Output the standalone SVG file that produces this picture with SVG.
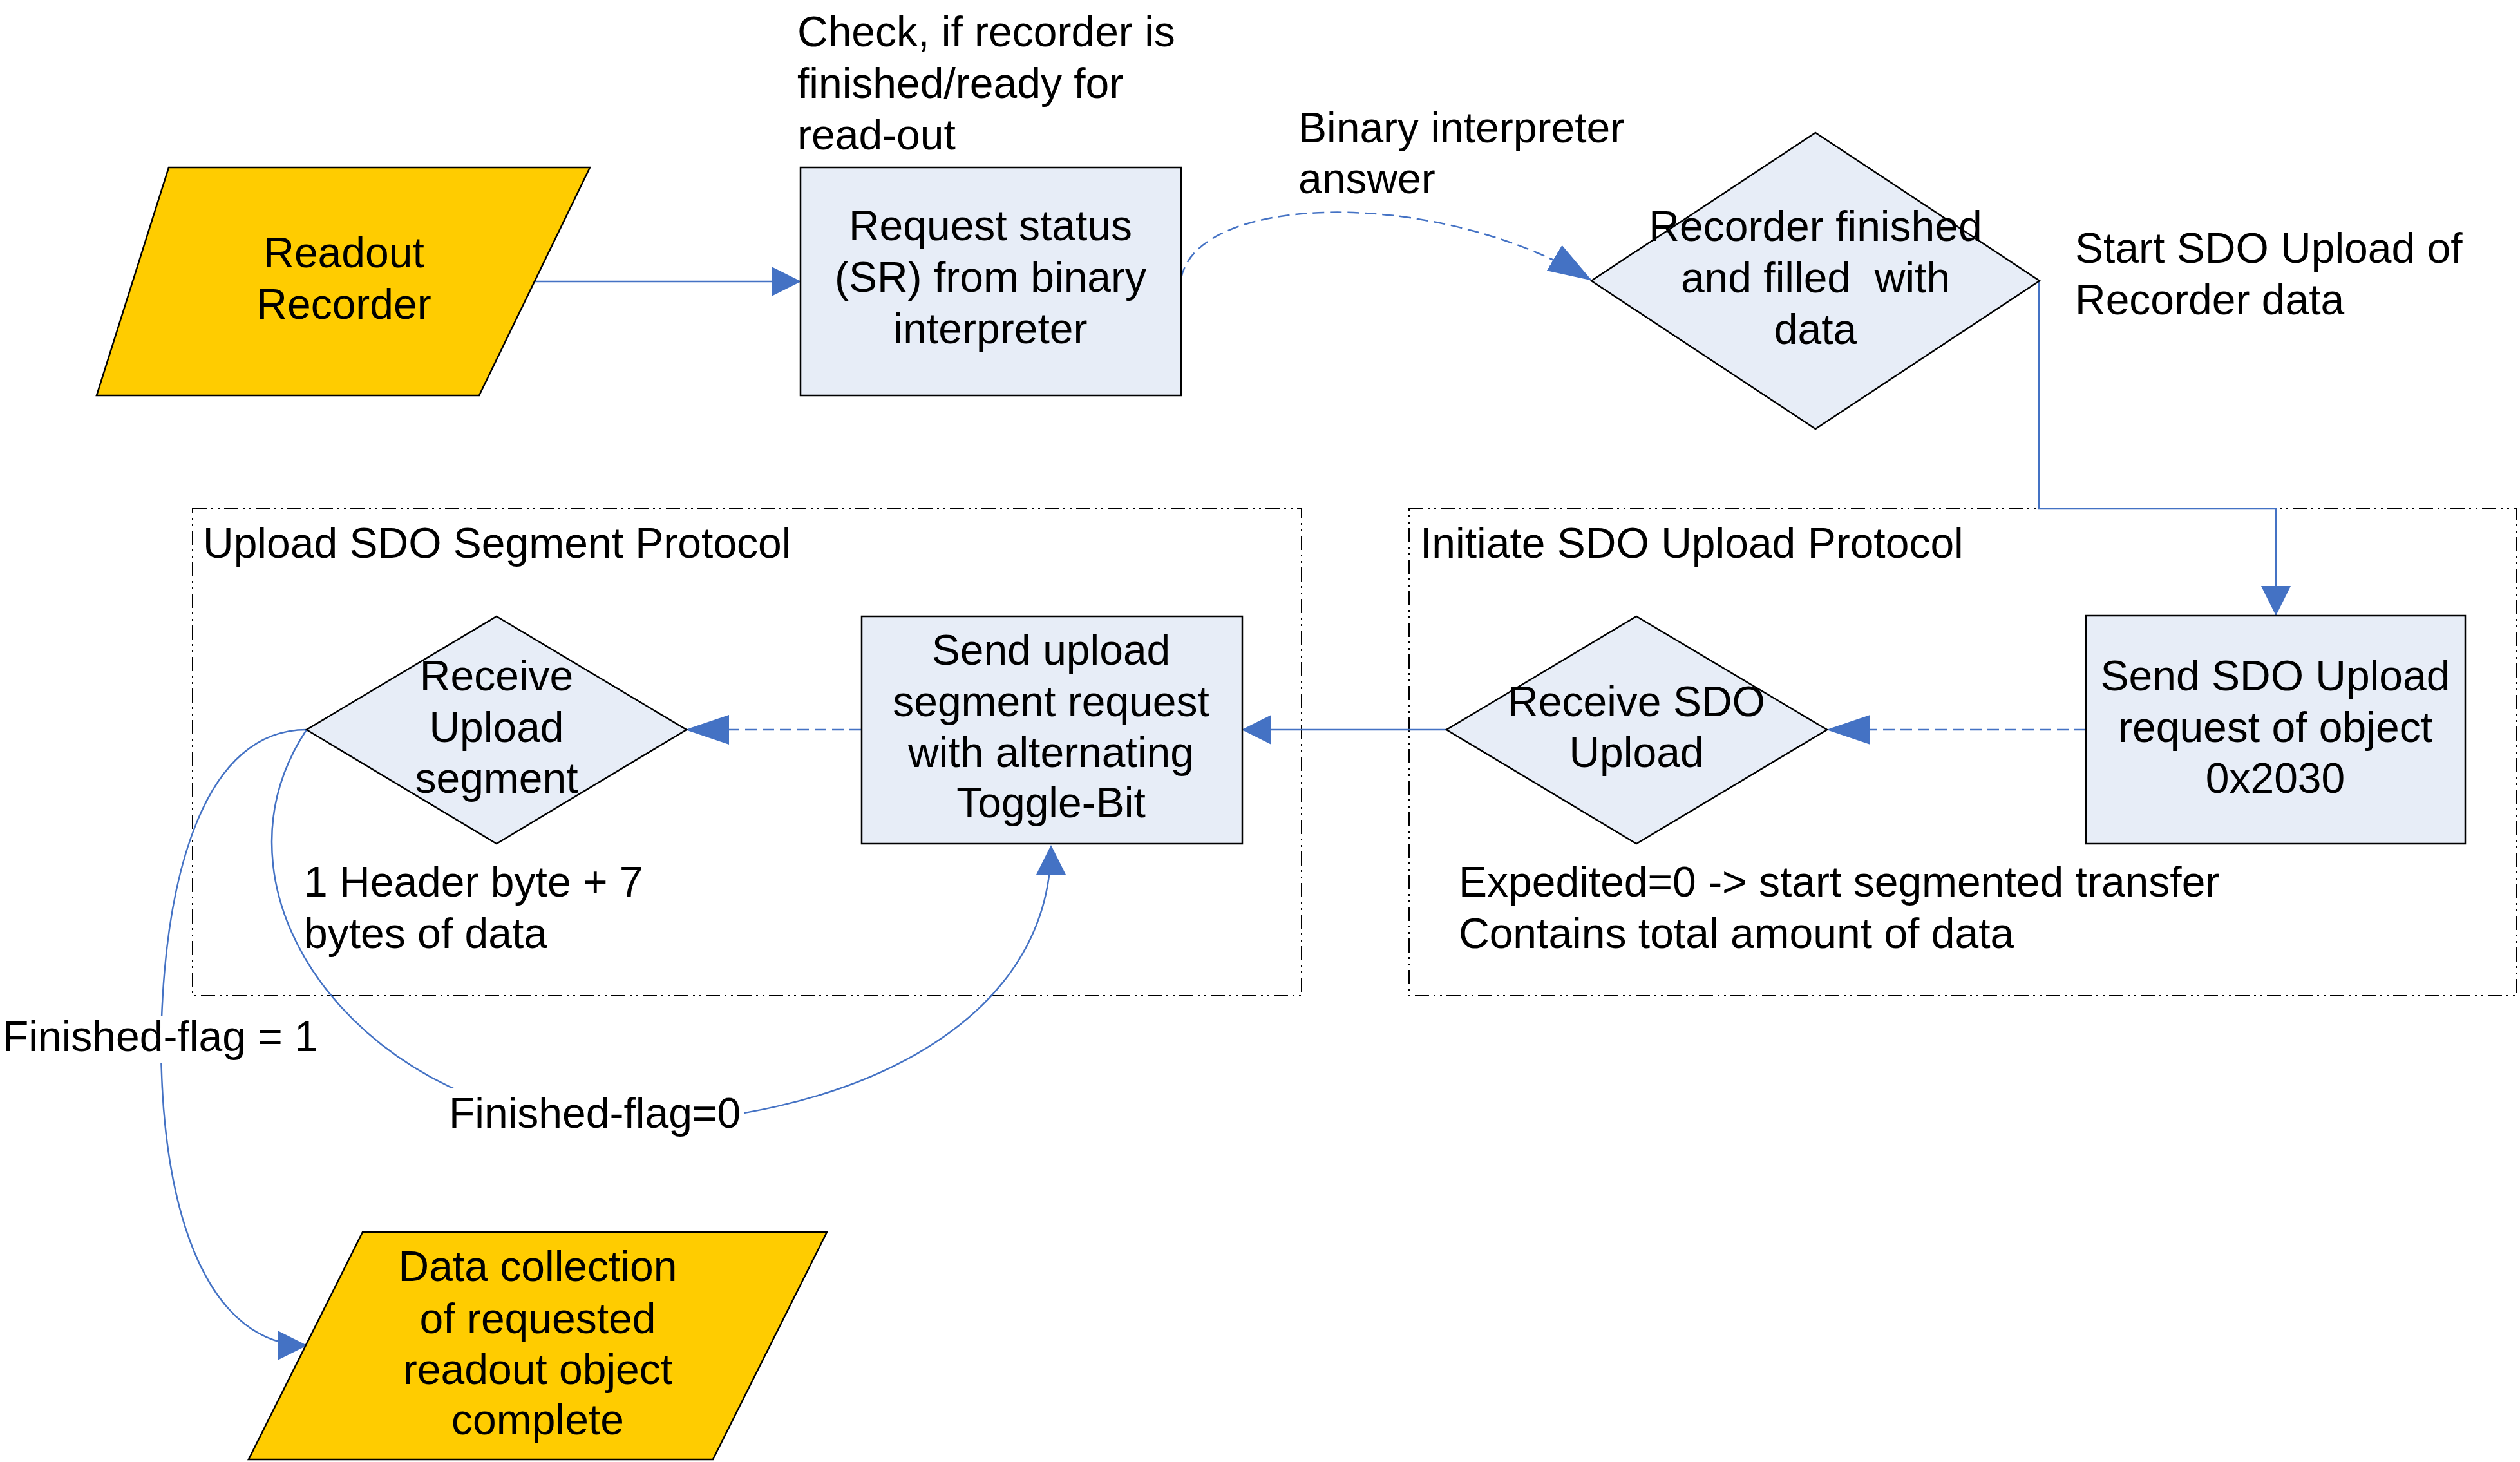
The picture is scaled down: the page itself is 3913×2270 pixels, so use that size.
<svg xmlns="http://www.w3.org/2000/svg" width="3913" height="2270" viewBox="0 0 3913 2270">
<style>
text{font-family:"Liberation Sans",Arial,sans-serif;font-size:66px;fill:#000}
.c{text-anchor:middle}
.box{fill:#E7EDF7;stroke:#000;stroke-width:2.5}
.io{fill:#FFCC00;stroke:#000;stroke-width:2.5}
.frame{fill:none;stroke:#000;stroke-width:2;stroke-dasharray:22 7 3 7 3 7}
.ln{fill:none;stroke:#4472C4;stroke-width:2.5}
.dash{stroke-dasharray:18 9}
.bg{fill:#fff}
</style>
<defs>
<marker id="ah" markerUnits="userSpaceOnUse" markerWidth="46" markerHeight="46" viewBox="0 0 46 46" refX="45" refY="23" orient="auto">
<path d="M0,0 L46,23 L0,46 Z" fill="#4472C4"/>
</marker>
<marker id="ahd" markerUnits="userSpaceOnUse" markerWidth="68" markerHeight="46" viewBox="0 0 68 46" refX="67" refY="23" orient="auto">
<path d="M0,0 L68,23 L0,46 Z" fill="#4472C4"/>
</marker>
</defs>
<rect width="3913" height="2270" fill="#fff"/>

<g id="frame-upload-segment">
<rect class="frame" x="299" y="790" width="1722" height="756"/>
<text x="315" y="866">Upload SDO Segment Protocol</text>
</g>
<g id="frame-initiate-upload">
<rect class="frame" x="2188" y="790" width="1720" height="756"/>
<text x="2205" y="866">Initiate SDO Upload Protocol</text>
</g>

<g id="connectors">
<path class="ln" d="M830,437 L1243,437" marker-end="url(#ah)"/>
<path class="ln dash" d="M1834,432 C1860,300 2230,290 2471,435" marker-end="url(#ahd)"/>
<path class="ln" d="M3166,436 L3166,790 L3534,790 L3534,955" marker-end="url(#ah)"/>
<path class="ln dash" d="M3239,1133 L2837,1133" marker-end="url(#ahd)"/>
<path class="ln" d="M2246,1133 L1929,1133" marker-end="url(#ah)"/>
<path class="ln dash" d="M1337,1133 L1065,1133" marker-end="url(#ahd)"/>
<path class="ln" d="M476,1133 C300,1400 580,1745 955,1745 C1300,1745 1632,1600 1632,1313" marker-end="url(#ah)"/>
<path class="ln" d="M476,1133 C320,1133 255,1350 250,1615 C250,1900 330,2089 476,2089" marker-end="url(#ah)"/>
</g>

<g id="labels">
<text x="1238" y="72">Check, if recorder is</text>
<text x="1238" y="152">finished/ready for</text>
<text x="1238" y="232">read-out</text>
<text x="2016" y="221">Binary interpreter</text>
<text x="2016" y="300">answer</text>
<text x="3222" y="408">Start SDO Upload of</text>
<text x="3222" y="488">Recorder data</text>
<text x="2265" y="1392">Expedited=0 -&gt; start segmented transfer</text>
<text x="2265" y="1472">Contains total amount of data</text>
<text x="472" y="1392">1 Header byte + 7</text>
<text x="472" y="1472">bytes of data</text>
<rect class="bg" x="0" y="1578" width="500" height="72"/>
<text x="4" y="1632">Finished-flag = 1</text>
<rect class="bg" x="690" y="1690" width="466" height="80"/>
<text x="697" y="1751">Finished-flag=0</text>
</g>

<g id="readout-recorder">
<polygon class="io" points="262,260 916,260 744,614 150,614"/>
<text class="c" x="534" y="415">Readout</text>
<text class="c" x="534" y="495">Recorder</text>
</g>

<g id="request-status">
<rect class="box" x="1243" y="260" width="591" height="354"/>
<text class="c" x="1538" y="373">Request status</text>
<text class="c" x="1538" y="453">(SR) from binary</text>
<text class="c" x="1538" y="533">interpreter</text>
</g>

<g id="recorder-finished">
<polygon class="box" points="2819,206 3167,436 2819,666 2471,436"/>
<text class="c" x="2819" y="374">Recorder finished</text>
<text class="c" x="2819" y="454" xml:space="preserve">and filled  with</text>
<text class="c" x="2819" y="534">data</text>
</g>

<g id="send-sdo-upload">
<rect class="box" x="3239" y="956" width="589" height="354"/>
<text class="c" x="3533" y="1072">Send SDO Upload</text>
<text class="c" x="3533" y="1152">request of object</text>
<text class="c" x="3533" y="1231">0x2030</text>
</g>

<g id="receive-sdo-upload">
<polygon class="box" points="2541,957 2837,1133 2541,1310 2246,1133"/>
<text class="c" x="2541" y="1112">Receive SDO</text>
<text class="c" x="2541" y="1191">Upload</text>
</g>

<g id="send-upload-segment">
<rect class="box" x="1338" y="957" width="591" height="353"/>
<text class="c" x="1632" y="1032">Send upload</text>
<text class="c" x="1632" y="1112">segment request</text>
<text class="c" x="1632" y="1191">with alternating</text>
<text class="c" x="1632" y="1269">Toggle-Bit</text>
</g>

<g id="receive-upload-segment">
<polygon class="box" points="771,957 1066,1133 771,1310 476,1133"/>
<text class="c" x="771" y="1072">Receive</text>
<text class="c" x="771" y="1152">Upload</text>
<text class="c" x="771" y="1231">segment</text>
</g>

<g id="data-collection">
<polygon class="io" points="563,1913 1284,1913 1107,2266 386,2266"/>
<text class="c" x="835" y="1989">Data collection</text>
<text class="c" x="835" y="2070">of requested</text>
<text class="c" x="835" y="2149">readout object</text>
<text class="c" x="835" y="2227">complete</text>
</g>
</svg>
